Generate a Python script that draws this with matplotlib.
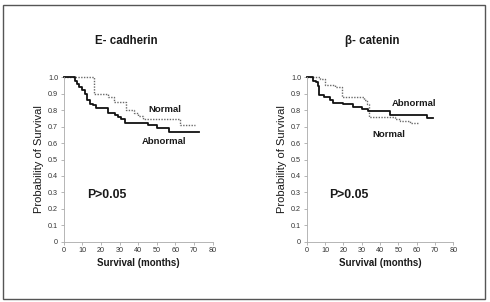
import matplotlib
matplotlib.use("Agg")
import matplotlib.pyplot as plt
from matplotlib.patches import Rectangle

plt.rcParams['font.family'] = ['Liberation Sans', 'DejaVu Sans']

# ---- data ----
panel_titles = ["E- cadherin", "\u03b2- catenin"]
x_ticks = [0, 10, 20, 30, 40, 50, 60, 70, 80]
y_ticks = [0, 0.1, 0.2, 0.3, 0.4, 0.5, 0.6, 0.7, 0.8, 0.9, 1.0]
y_tick_labels = ["0", "0.1", "0.2", "0.3", "0.4", "0.5", "0.6", "0.7", "0.8", "0.9", "1.0"]

ecad_normal_t = [0, 16.3, 23.8, 26.8, 33.6, 38.0, 40.0, 42.8, 62.4, 70.4]
ecad_normal_s = [1.0, 0.90, 0.88, 0.85, 0.80, 0.78, 0.765, 0.748, 0.712, 0.712]
ecad_abn_t = [0, 6.0, 7.0, 8.2, 9.6, 11.3, 12.7, 14.0, 15.7, 17.5, 23.8, 27.4, 29.0, 31.0, 32.8, 45.5, 50.0, 56.5, 72.8]
ecad_abn_s = [1.0, 0.98, 0.96, 0.94, 0.92, 0.90, 0.86, 0.84, 0.83, 0.813, 0.78, 0.77, 0.76, 0.745, 0.72, 0.71, 0.69, 0.665, 0.665]

bcat_normal_t = [0, 7.3, 10.0, 15.5, 19.0, 31.0, 32.7, 34.0, 48.0, 51.0, 56.4, 61.0]
bcat_normal_s = [1.0, 0.99, 0.953, 0.94, 0.882, 0.86, 0.84, 0.76, 0.745, 0.735, 0.722, 0.722]
bcat_abn_t = [0, 3.3, 5.0, 6.0, 6.9, 9.5, 12.7, 14.5, 20.0, 25.5, 30.0, 33.6, 45.5, 65.5, 68.7]
bcat_abn_s = [1.0, 0.98, 0.97, 0.95, 0.89, 0.878, 0.862, 0.845, 0.835, 0.82, 0.805, 0.792, 0.772, 0.752, 0.752]

normal_label_pos = [(54.5, 0.807), (45.0, 0.655)]
abnormal_label_pos = [(54.0, 0.608), (58.5, 0.839)]
p_text = "P>0.05"
p_pos = (23.0, 0.284)

# ---- figure ----
fig = plt.figure(figsize=(4.9, 3.02), dpi=100)
fig.patch.set_facecolor('white')
fig.patches.append(Rectangle((3/490, 3/302), 482/490, 294/302, transform=fig.transFigure,
                             fill=False, edgecolor='#555555', linewidth=1.0))

txt = '#1a1a1a'
axes_pos = [[63.7/490, 1-241.7/302, 149/490, 164.4/302],
            [306.7/490, 1-241.7/302, 146.6/490, 164.4/302]]
data = [(ecad_normal_t, ecad_normal_s, ecad_abn_t, ecad_abn_s),
        (bcat_normal_t, bcat_normal_s, bcat_abn_t, bcat_abn_s)]
title_x = [126/490, 372/490]

for i in range(2):
    ax = fig.add_axes(axes_pos[i])
    nt, ns, at, as_ = data[i]
    ax.step(nt, ns, where='post', color='#6a6a6a', linestyle=(0, (1, 1)), linewidth=1.0, clip_on=False)
    ax.step(at, as_, where='post', color='#111111', linewidth=1.3, clip_on=False)
    ax.set_xlim(0, 80)
    ax.set_ylim(0, 1.0)
    ax.set_xticks(x_ticks)
    ax.set_xticklabels([str(v) for v in x_ticks])
    ax.set_yticks(y_ticks)
    ax.set_yticklabels(y_tick_labels)
    ax.tick_params(axis='both', labelsize=5.2, colors='#999999', labelcolor='#333333',
                   length=2, width=0.5, pad=2)
    for s in ['top', 'right']:
        ax.spines[s].set_visible(False)
    for s in ['left', 'bottom']:
        ax.spines[s].set_color('#aaaaaa')
        ax.spines[s].set_linewidth(0.6)
    ax.set_xlabel("Survival (months)", fontsize=7, fontweight='bold', color=txt, labelpad=3)
    ax.set_ylabel("Probability of Survival", fontsize=8, color=txt, labelpad=3)
    ax.text(normal_label_pos[i][0], normal_label_pos[i][1], "Normal", fontsize=6.8,
            fontweight='bold', color=txt, ha='center', va='center')
    ax.text(abnormal_label_pos[i][0], abnormal_label_pos[i][1], "Abnormal", fontsize=6.8,
            fontweight='bold', color=txt, ha='center', va='center')
    ax.text(p_pos[0], p_pos[1], p_text, fontsize=8.8, fontweight='bold', color=txt,
            ha='center', va='center')
    fig.text(title_x[i], 1-41/302, panel_titles[i], fontsize=8.3, fontweight='bold',
             color=txt, ha='center', va='center')

fig.savefig("out.png", dpi=100, facecolor='white')
